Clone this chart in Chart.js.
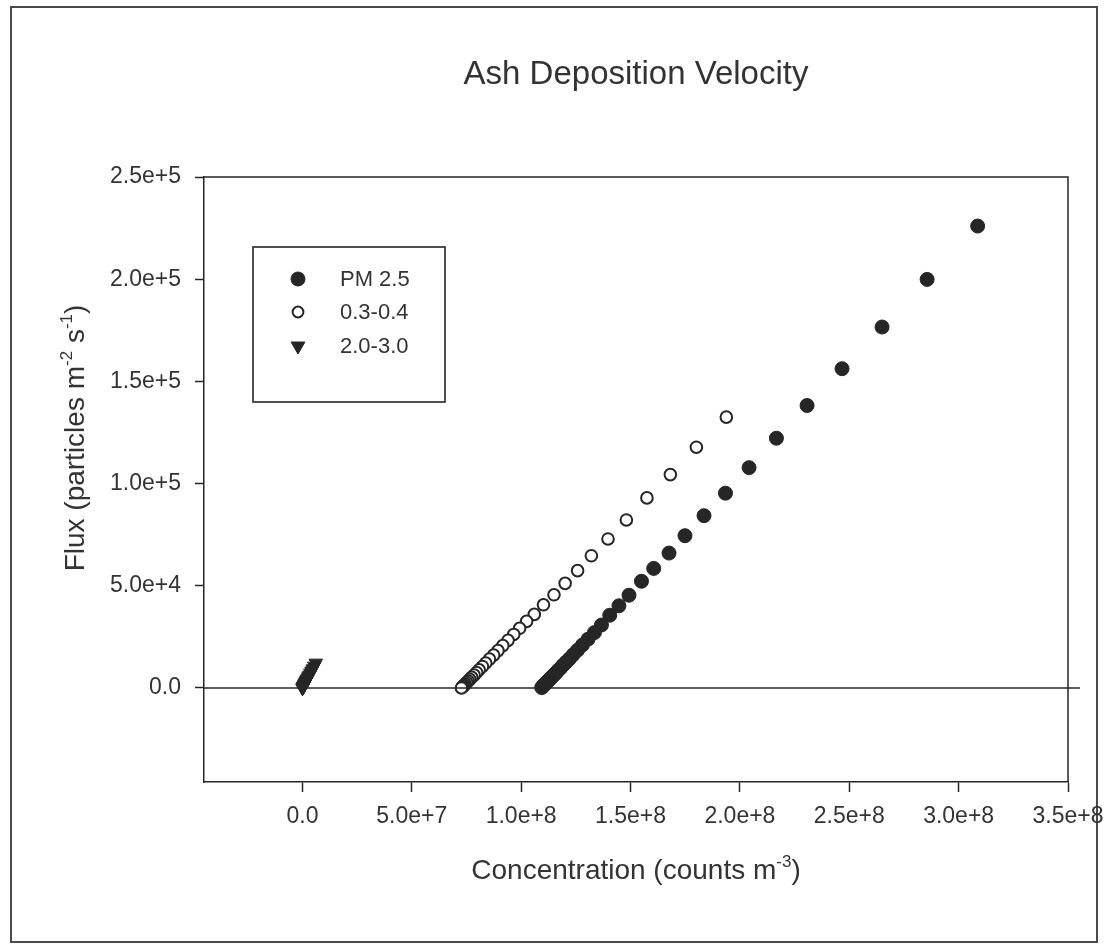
<!DOCTYPE html>
<html>
<head>
<meta charset="utf-8">
<title>Ash Deposition Velocity</title>
<script src="https://cdn.jsdelivr.net/npm/chart.js@4/dist/chart.umd.min.js"></script>
<style>
  html, body { margin: 0; padding: 0; background: #ffffff; }
  #wrap { position: relative; width: 1106px; height: 947px; }
  canvas { display: block; }
</style>
</head>
<body>
<div id="wrap"><canvas id="chart" width="1106" height="947"></canvas></div>
<script>
// ---- chart text ----
const chartTitle = 'Ash Deposition Velocity';
const seriesNames = ['PM 2.5', '0.3-0.4', '2.0-3.0'];
// axis titles as [text, isSuperscript] runs
const xTitleParts = [['Concentration (counts m', 0], ['-3', 1], [')', 0]];
const yTitleParts = [['Flux (particles m', 0], ['-2', 1], [' s', 0], ['-1', 1], [')', 0]];

// ---- PM 2.5 : concentration (counts m^-3) and flux (particles m^-2 s^-1) ----
const pm25Conc = [
  3.087e8, 2.856e8, 2.650e8, 2.467e8, 2.307e8, 2.167e8, 2.042e8, 1.934e8,
  1.836e8, 1.749e8, 1.676e8, 1.606e8, 1.550e8, 1.493e8, 1.447e8, 1.405e8,
  1.367e8, 1.335e8, 1.306e8, 1.280e8, 1.258e8, 1.238e8, 1.221e8, 1.205e8,
  1.191e8, 1.180e8, 1.169e8, 1.160e8, 1.152e8, 1.144e8, 1.138e8, 1.132e8,
  1.127e8, 1.123e8, 1.119e8, 1.115e8, 1.111e8, 1.108e8, 1.105e8, 1.102e8,
  1.100e8, 1.097e8, 1.094e8
];
const pm25Flux = [
  2.260e5, 1.999e5, 1.766e5, 1.562e5, 1.382e5, 1.222e5, 1.078e5, 9.53e4,
  8.43e4, 7.45e4, 6.60e4, 5.85e4, 5.22e4, 4.54e4, 4.02e4, 3.56e4,
  3.08e4, 2.71e4, 2.39e4, 2.10e4, 1.85e4, 1.63e4, 1.43e4, 1.26e4,
  1.11e4, 9.7e3, 8.6e3, 7.5e3, 6.6e3, 5.8e3, 5.1e3, 4.5e3,
  3.9e3, 3.4e3, 2.9e3, 2.5e3, 2.1e3, 1.7e3, 1.4e3, 1.1e3,
  8.0e2, 5.0e2, 2.0e2
];

// ---- 0.3-0.4 um ----
const fineConc = [
  1.938e8, 1.801e8, 1.682e8, 1.575e8, 1.481e8, 1.397e8, 1.321e8, 1.258e8,
  1.201e8, 1.150e8, 1.102e8, 1.060e8, 1.025e8, 9.93e7, 9.66e7, 9.40e7,
  9.16e7, 8.94e7, 8.74e7, 8.55e7, 8.38e7, 8.23e7, 8.08e7, 7.96e7,
  7.85e7, 7.74e7, 7.65e7, 7.58e7, 7.51e7, 7.44e7, 7.39e7, 7.34e7,
  7.30e7, 7.27e7
];
const fineFlux = [
  1.325e5, 1.178e5, 1.044e5, 9.30e4, 8.22e4, 7.29e4, 6.47e4, 5.74e4,
  5.12e4, 4.56e4, 4.07e4, 3.60e4, 3.26e4, 2.92e4, 2.62e4, 2.33e4,
  2.07e4, 1.83e4, 1.61e4, 1.41e4, 1.22e4, 1.05e4, 8.9e3, 7.6e3,
  6.3e3, 5.2e3, 4.2e3, 3.4e3, 2.6e3, 1.9e3, 1.3e3, 8.0e2,
  4.0e2, 0
];

// ---- 2.0-3.0 um ----
const coarseConc = [
  6.1e6, 5.4e6, 4.7e6, 4.15e6, 3.66e6, 3.17e6, 2.8e6, 2.44e6, 2.14e6, 1.83e6,
  1.59e6, 1.34e6, 1.1e6, 9.2e5, 7.3e5, 5.5e5, 3.7e5, 2.4e5, 1.2e5, 0
];
const coarseFlux = [
  1.22e4, 1.07e4, 9.4e3, 8.3e3, 7.3e3, 6.3e3, 5.6e3, 4.9e3, 4.3e3, 3.7e3,
  3.2e3, 2.7e3, 2.2e3, 1.8e3, 1.5e3, 1.1e3, 7.0e2, 5.0e2, 2.0e2, 0
];

// ---- axes ----
const xRange = [-4.5e7, 3.5e8];
const yRange = [-4.6e4, 2.5e5];
const xTickValues = [0, 5e7, 1e8, 1.5e8, 2e8, 2.5e8, 3e8, 3.5e8];
const xTickLabels = ['0.0', '5.0e+7', '1.0e+8', '1.5e+8', '2.0e+8', '2.5e+8', '3.0e+8', '3.5e+8'];
const yTickValues = [0, 5e4, 1e5, 1.5e5, 2e5, 2.5e5];
const yTickLabels = ['0.0', '5.0e+4', '1.0e+5', '1.5e+5', '2.0e+5', '2.5e+5'];
// horizontal reference line at zero flux
const zeroLineX = [-4.5e7, 3.555e8];
const zeroLineY = [0, 0];

// ---- styling ----
const FONT = '"Liberation Sans", Arial, Helvetica, sans-serif';
const INK = '#262626';
const TEXT = '#333333';

const pairs = (xs, ys) => xs.map((x, i) => ({ x, y: ys[i] }));

const seriesStyles = [
  { pointStyle: 'circle', radius: 7, borderWidth: 1, rotation: 0, fill: INK, stroke: INK },
  { pointStyle: 'circle', radius: 5.8, borderWidth: 2, rotation: 0, fill: '#ffffff', stroke: INK },
  { pointStyle: 'triangle', radius: 7.8, borderWidth: 1, rotation: 180, fill: INK, stroke: INK }
];
const legendRadii = [7, 5.4, 8];

function scatterSet(label, data, st) {
  return {
    type: 'scatter',
    label,
    data,
    pointStyle: st.pointStyle,
    pointRadius: st.radius,
    pointRotation: st.rotation,
    pointBorderWidth: st.borderWidth,
    pointBackgroundColor: st.fill,
    pointBorderColor: st.stroke,
    pointHoverRadius: st.radius,
    showLine: false
  };
}

// draws a run of normal / superscript text centred on (x, y) baseline
function drawRich(ctx, parts, x, y, size, vertical) {
  const supSize = Math.round(size * 0.6);
  ctx.save();
  ctx.translate(x, y);
  if (vertical) ctx.rotate(-Math.PI / 2);
  ctx.textAlign = 'left';
  ctx.textBaseline = 'alphabetic';
  ctx.fillStyle = TEXT;
  const widths = parts.map(([t, sup]) => {
    ctx.font = `${sup ? supSize : size}px ${FONT}`;
    return ctx.measureText(t).width;
  });
  let cx = -widths.reduce((a, b) => a + b, 0) / 2;
  parts.forEach(([t, sup], i) => {
    ctx.font = `${sup ? supSize : size}px ${FONT}`;
    ctx.fillText(t, cx, sup ? -size * 0.42 : 0);
    cx += widths[i];
  });
  ctx.restore();
}

const decorations = {
  id: 'decorations',
  beforeDraw(chart) {
    const ctx = chart.ctx;
    ctx.save();
    ctx.fillStyle = '#ffffff';
    ctx.fillRect(0, 0, chart.width, chart.height);
    // outer figure frame
    ctx.strokeStyle = '#4a4a4a';
    ctx.lineWidth = 2;
    ctx.strokeRect(11, 7, 1086, 935);
    ctx.restore();
  },
  afterDraw(chart) {
    const ctx = chart.ctx;
    const a = chart.chartArea;
    ctx.save();
    // top and right sides of the plot box
    ctx.strokeStyle = INK;
    ctx.lineWidth = 1.5;
    ctx.beginPath();
    ctx.moveTo(a.left, a.top);
    ctx.lineTo(a.right, a.top);
    ctx.lineTo(a.right, a.bottom);
    ctx.stroke();

    // chart title
    ctx.fillStyle = TEXT;
    ctx.font = `33px ${FONT}`;
    ctx.textAlign = 'center';
    ctx.textBaseline = 'alphabetic';
    ctx.fillText(chartTitle, (a.left + a.right) / 2, 84);

    // axis titles
    drawRich(ctx, xTitleParts, (a.left + a.right) / 2, 879, 28, false);
    drawRich(ctx, yTitleParts, 84, 438, 28, true);

    // legend box
    const lx = 253, ly = 247, lw = 192, lh = 155;
    ctx.strokeStyle = INK;
    ctx.lineWidth = 1.6;
    ctx.strokeRect(lx, ly, lw, lh);
    const rowsY = [279, 312, 346];
    seriesNames.forEach((name, i) => {
      const st = seriesStyles[i];
      ctx.save();
      ctx.fillStyle = st.fill;
      ctx.strokeStyle = st.stroke;
      ctx.lineWidth = st.borderWidth;
      Chart.helpers.drawPoint(ctx, {
        pointStyle: st.pointStyle,
        radius: legendRadii[i],
        rotation: st.rotation,
        borderWidth: st.borderWidth
      }, 298, rowsY[i]);
      ctx.restore();
      ctx.fillStyle = TEXT;
      ctx.font = `22px ${FONT}`;
      ctx.textAlign = 'left';
      ctx.textBaseline = 'middle';
      ctx.fillText(name, 340, rowsY[i] + 1);
    });
    ctx.restore();
  }
};

const tickFont = { family: FONT, size: 23 };

new Chart(document.getElementById('chart'), {
  type: 'scatter',
  data: {
    datasets: [
      {
        type: 'line',
        label: 'zero',
        data: pairs(zeroLineX, zeroLineY),
        borderColor: INK,
        borderWidth: 1.5,
        pointRadius: 0,
        pointHoverRadius: 0,
        fill: false,
        clip: false
      },
      scatterSet(seriesNames[2], pairs(coarseConc, coarseFlux), seriesStyles[2]),
      scatterSet(seriesNames[1], pairs(fineConc, fineFlux), seriesStyles[1]),
      scatterSet(seriesNames[0], pairs(pm25Conc, pm25Flux), seriesStyles[0])
    ]
  },
  options: {
    responsive: false,
    animation: false,
    devicePixelRatio: 1,
    events: [],
    layout: { padding: { left: 0, top: 177, right: 38, bottom: 0 } },
    plugins: {
      legend: { display: false },
      title: { display: false },
      tooltip: { enabled: false }
    },
    scales: {
      x: {
        type: 'linear',
        position: 'bottom',
        min: xRange[0],
        max: xRange[1],
        afterBuildTicks(scale) { scale.ticks = xTickValues.map(v => ({ value: v })); },
        afterFit(scale) { scale.height = 165; scale.paddingLeft = 0; scale.paddingRight = 0; },
        ticks: {
          autoSkip: false,
          maxRotation: 0,
          minRotation: 0,
          padding: 11,
          color: TEXT,
          font: tickFont,
          callback: (v) => { const i = xTickValues.indexOf(v); return i >= 0 ? xTickLabels[i] : ''; }
        },
        grid: {
          drawOnChartArea: false,
          drawTicks: true,
          tickLength: 10,
          tickColor: INK,
          tickWidth: 1.5
        },
        border: { display: true, color: INK, width: 1.5 }
      },
      y: {
        type: 'linear',
        position: 'left',
        min: yRange[0],
        max: yRange[1],
        afterBuildTicks(scale) { scale.ticks = yTickValues.map(v => ({ value: v })); },
        afterFit(scale) { scale.width = 204; scale.paddingTop = 0; scale.paddingBottom = 0; },
        ticks: {
          autoSkip: false,
          padding: 14,
          color: TEXT,
          font: tickFont,
          callback: (v) => { const i = yTickValues.indexOf(v); return i >= 0 ? yTickLabels[i] : ''; }
        },
        grid: {
          drawOnChartArea: false,
          drawTicks: true,
          tickLength: 9,
          tickColor: INK,
          tickWidth: 1.5
        },
        border: { display: true, color: INK, width: 1.5 }
      }
    }
  },
  plugins: [decorations]
});
</script>
</body>
</html>
